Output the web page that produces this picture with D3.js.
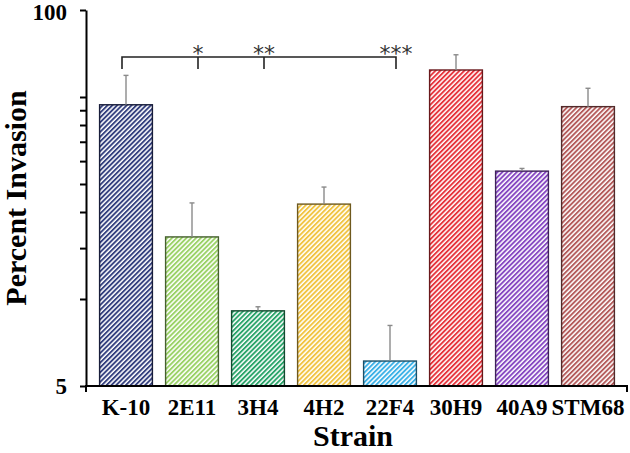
<!DOCTYPE html>
<html>
<head>
<meta charset="utf-8">
<script src="https://cdn.jsdelivr.net/npm/d3@7"></script>
<style>
  html, body { margin: 0; padding: 0; background: #fff; }
  svg { display: block; }
</style>
</head>
<body>
<svg id="chart" width="630" height="453"></svg>
<script>
// ---- data ----
const categories = ["K-10", "2E11", "3H4", "4H2", "22F4", "30H9", "40A9", "STM68"];
const values = [47.0, 16.4, 9.1, 21.3, 6.1, 62.0, 27.7, 46.3];
const errorUp = [12.4, 5.1, 0.3, 3.1, 2.0, 8.0, 0.6, 7.3];
const barColors = ["#34407f", "#9ad266", "#2aa46a", "#f1c442", "#3bb0e6", "#e6343c", "#8648c2", "#b45c5c"];
const labeledTicks = [5, 100];
const minorTicks = [10, 15, 20, 25, 30, 35, 40, 45, 50];
const bracketFrom = "K-10";
const sigTargets = ["2E11", "3H4", "22F4"];
const sigLabels = ["*", "**", "***"];
const yTitle = "Percent Invasion";
const xTitle = "Strain";

// ---- layout ----
const svg = d3.select("#chart");
const axisLeftX = 86, axisRightX = 627;
const yTop = 10, yBottom = 386;
const serif = "'Liberation Serif','Times New Roman',Times,serif";

const x = d3.scaleBand().domain(categories).range([93, 621]).paddingInner(0.2).paddingOuter(0.1);
const y = d3.scaleLog().domain([5, 100]).range([yBottom, yTop]);

// patterns
const defs = svg.append("defs");
categories.forEach((c, i) => {
  const p = defs.append("pattern")
    .attr("id", "hatch" + i)
    .attr("patternUnits", "userSpaceOnUse")
    .attr("width", 3.4).attr("height", 3.4)
    .attr("patternTransform", "rotate(45)");
  p.append("rect").attr("width", 3.4).attr("height", 3.4).attr("fill", "#ffffff");
  p.append("rect").attr("x", 0).attr("y", 0).attr("width", 1.9).attr("height", 3.4).attr("fill", barColors[i]);
});

// bars
const bw = x.bandwidth();
svg.append("g").selectAll("rect")
  .data(categories)
  .join("rect")
  .attr("x", d => x(d))
  .attr("y", (d, i) => y(values[i]))
  .attr("width", bw)
  .attr("height", (d, i) => y(5) - y(values[i]))
  .attr("fill", (d, i) => `url(#hatch${i})`)
  .attr("stroke", (d, i) => d3.color(barColors[i]).darker(2.2).formatHex())
  .attr("stroke-width", 1.4);

// error bars
const eb = svg.append("g").attr("stroke", "#8a8a8a").attr("stroke-width", 1.4);
categories.forEach((c, i) => {
  const cx = x(c) + bw / 2;
  const yt = y(values[i] + errorUp[i]);
  eb.append("line").attr("x1", cx).attr("x2", cx).attr("y1", y(values[i])).attr("y2", yt);
  eb.append("line").attr("x1", cx - 2.5).attr("x2", cx + 2.5).attr("y1", yt).attr("y2", yt);
});

// y axis
const yAxis = d3.axisLeft(y)
  .tickValues(labeledTicks.concat(minorTicks))
  .tickFormat(d => labeledTicks.includes(d) ? d3.format("d")(d) : "")
  .tickSize(6).tickSizeOuter(0).tickPadding(13);
const gy = svg.append("g").attr("transform", `translate(${axisLeftX},0)`).call(yAxis);
gy.select(".domain").attr("stroke", "#000").attr("stroke-width", 2);
gy.selectAll(".tick line").attr("stroke", "#000").attr("stroke-width", 2);
gy.selectAll(".tick text")
  .attr("font-family", serif).attr("font-weight", "bold").attr("font-size", 23)
  .attr("fill", "#000").attr("dy", d => d === 100 ? "0.42em" : "0.34em");

// x axis
const xAxis = d3.axisBottom(x).tickSize(0).tickSizeOuter(0).tickPadding(13);
const gx = svg.append("g").attr("transform", `translate(0,${yBottom})`).call(xAxis);
gx.select(".domain").remove();
gx.selectAll(".tick text")
  .attr("font-family", serif).attr("font-weight", "bold").attr("font-size", 23)
  .attr("fill", "#000");
gx.append("path")
  .attr("d", `M${axisLeftX},6V0H${axisRightX}V6`)
  .attr("fill", "none").attr("stroke", "#000").attr("stroke-width", 2);

// titles
svg.append("text")
  .attr("transform", `translate(26,198) rotate(-90)`)
  .attr("text-anchor", "middle")
  .attr("font-family", serif).attr("font-weight", "bold").attr("font-size", 30)
  .text(yTitle);
svg.append("text")
  .attr("x", 353).attr("y", 446)
  .attr("text-anchor", "middle")
  .attr("font-family", serif).attr("font-weight", "bold").attr("font-size", 30)
  .text(xTitle);

// significance bracket
const bracketY = 57, dropY = 69;
const leftX = x(bracketFrom) + bw / 2 - 4;
const tickXs = sigTargets.map(c => x(c) + bw / 2 + 6);
const br = svg.append("g").attr("stroke", "#222").attr("stroke-width", 1.6).attr("fill", "none");
br.append("path").attr("d", `M${leftX},${dropY}V${bracketY}H${tickXs[tickXs.length - 1]}V${dropY}`);
tickXs.slice(0, -1).forEach(tx => br.append("line").attr("x1", tx).attr("x2", tx).attr("y1", bracketY).attr("y2", dropY));
sigLabels.forEach((lab, i) => {
  svg.append("text")
    .attr("x", tickXs[i]).attr("y", 61)
    .attr("text-anchor", "middle")
    .attr("font-family", "'DejaVu Sans',sans-serif").attr("font-size", 22)
    .attr("fill", "#333")
    .text(lab);
});
</script>
</body>
</html>
